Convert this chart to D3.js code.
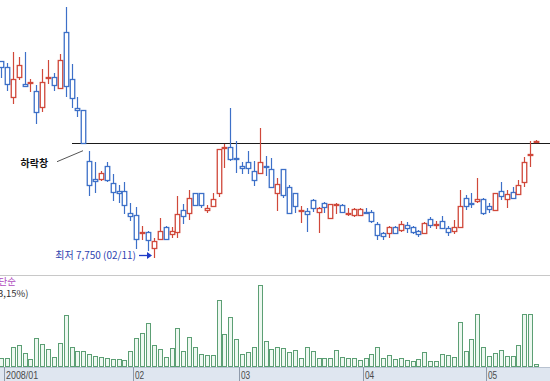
<!DOCTYPE html>
<html><head><meta charset="utf-8">
<script src="https://cdn.jsdelivr.net/npm/d3@7"></script>
<style>html,body{margin:0;padding:0;background:#fff;overflow:hidden}</style>
</head><body><svg id="c" width="550" height="381"></svg>
<script>
const dates = [
"2007-12-28",
"2008-01-02","2008-01-03","2008-01-04","2008-01-07","2008-01-08","2008-01-09","2008-01-10","2008-01-11",
"2008-01-14","2008-01-15","2008-01-16","2008-01-17","2008-01-18","2008-01-21","2008-01-22","2008-01-23",
"2008-01-24","2008-01-25","2008-01-28","2008-01-29","2008-01-30","2008-01-31",
"2008-02-01","2008-02-04","2008-02-05","2008-02-11","2008-02-12","2008-02-13","2008-02-14","2008-02-15",
"2008-02-18","2008-02-19","2008-02-20","2008-02-21","2008-02-22","2008-02-25","2008-02-26","2008-02-27",
"2008-02-28","2008-02-29",
"2008-03-03","2008-03-04","2008-03-05","2008-03-06","2008-03-07","2008-03-10","2008-03-11","2008-03-12",
"2008-03-13","2008-03-14","2008-03-17","2008-03-18","2008-03-19","2008-03-20","2008-03-21","2008-03-24",
"2008-03-25","2008-03-26","2008-03-27","2008-03-28","2008-03-31",
"2008-04-01","2008-04-02","2008-04-03","2008-04-04","2008-04-07","2008-04-08","2008-04-10","2008-04-11",
"2008-04-14","2008-04-15","2008-04-16","2008-04-17","2008-04-18","2008-04-21","2008-04-22","2008-04-23",
"2008-04-24","2008-04-25","2008-04-28","2008-04-29","2008-04-30",
"2008-05-01","2008-05-02","2008-05-06","2008-05-07","2008-05-08","2008-05-09","2008-05-13","2008-05-14","2008-05-15"
];
const open = [
11620,11500,10910,11300,11160,11190,11030,10710,11280,11300,
11090,12190,11260,10690,10650,9640,9290,9290,9550,9210,
9060,9060,8620,8570,8220,8250,7930,8100,8350,8200,
8250,8680,8610,9020,9010,8670,8760,9020,9900,9920,
9700,9550,9630,9450,9400,9550,9480,9010,9480,9130,
9010,8670,8660,8880,8630,8820,8510,8780,8770,8600,
8580,8580,8640,8630,8400,8230,8230,8340,8280,8380,
8340,8260,8230,8500,8380,8470,8320,8270,8350,8910,
8820,8860,8890,8760,8680,9060,8890,9040,8990,9240,
9770,10010];
const high = [
11620,11580,11800,11700,11800,11260,11140,11460,11640,11380,
11760,12680,11560,10910,10650,9840,9630,9450,9630,9390,
9170,9240,8820,8740,8360,8270,8120,8510,8360,8350,
8950,8800,9070,9020,9020,8780,9010,9880,9990,10690,
10030,9630,9850,9640,10290,9740,9700,9300,9490,9170,
9020,8760,8720,8890,8730,8840,8800,8820,8790,8710,
8720,8710,8710,8680,8450,8250,8360,8360,8470,8450,
8360,8280,8450,8530,8460,8550,8360,8490,9070,8970,
9010,9300,8920,8810,9010,9240,9070,9130,9260,9730,
10030,10060];
const low = [
11300,11050,10790,11260,11130,11030,10400,10630,11180,11050,
11090,10930,10710,10530,10000,8970,9030,9270,9250,8880,
8840,8620,8480,7930,8100,7890,7750,8100,8100,8150,
8150,8430,8500,8780,8740,8640,8760,8960,9530,9660,
9430,9400,9400,9170,9400,9370,9130,8680,8940,8610,
8640,8450,8270,8660,8240,8640,8510,8620,8630,8580,
8560,8580,8610,8450,8100,8100,8150,8220,8270,8250,
8230,8160,8230,8350,8330,8320,8180,8230,8350,8690,
8730,8840,8600,8640,8680,8890,8740,8910,8990,9150,
9550,10010];
const close = [
11500,11160,11260,11540,11130,11200,10610,11200,11300,11140,
11640,11130,10890,10650,10000,9170,9250,9410,9270,9030,
9020,8780,8550,8100,8250,8090,8070,8270,8100,8260,
8600,8560,8910,8780,8780,8710,8890,9880,9920,9680,
9690,9510,9510,9270,9630,9540,9130,9200,8970,8610,
8760,8680,8590,8710,8710,8730,8800,8800,8630,8620,
8700,8690,8620,8470,8180,8160,8340,8230,8400,8320,
8240,8200,8420,8380,8400,8320,8240,8340,8760,8760,
8800,8890,8620,8690,9010,8960,8990,8920,9180,9630,
9780,10030];
const volume = [
77,77,187,214,134,67,277,220,167,87,
230,507,187,150,150,117,100,87,84,67,
67,60,147,284,327,434,207,167,94,180,
384,150,294,190,124,107,107,664,324,494,
270,124,140,194,807,247,167,194,184,144,
164,84,187,147,80,84,84,164,94,80,
84,62,84,124,194,84,107,67,84,60,
54,74,144,54,54,117,107,94,444,147,
274,524,187,100,134,164,100,100,214,517,
517,17];
const tickDates = ["2008-01-02","2008-02-01","2008-03-03","2008-04-01","2008-05-01"];
const tickLabels = ["2008/01","02","03","04","05"];
const gapLevel = 10000;
const gapLabel = "하락창";
const lowDate = "2008-02-11";
const lowValue = 7750;
const lowLabel = "최저 7,750 (02/11)";
const volLegend = ["단순", "3,15%)"];

const svg = d3.select("#c");
const UP = "#d0483a", DOWN = "#3d70c8";
const x = d3.scaleBand().domain(dates).range([-1.94, 539]).paddingInner(0).paddingOuter(0);
const cx = d => Math.round(x(d) + x.bandwidth() / 2);
const y = d3.scaleLinear().domain([7750, 10000]).range([257, 143]);
const yv = d3.scaleLinear().domain([0, 910]).range([366, 275]);

const data = dates.map((d, i) => ({d, o: open[i], h: high[i], l: low[i], c: close[i], v: volume[i]}));

// panel separator
svg.append("line").attr("x1", 0).attr("x2", 550).attr("y1", 275.5).attr("y2", 275.5)
  .attr("stroke", "#c8c8c8");

// gap (resistance) line
svg.append("line")
  .attr("x1", cx(dates[12])).attr("x2", 550)
  .attr("y1", Math.round(y(gapLevel)) + 0.5).attr("y2", Math.round(y(gapLevel)) + 0.5)
  .attr("stroke", "#1a1a1a").attr("stroke-width", 1);

// candles
const g = svg.append("g");
const cg = g.selectAll("g.c").data(data).enter().append("g").attr("class", "c");
cg.append("line")
  .attr("x1", d => cx(d.d) + 0.5).attr("x2", d => cx(d.d) + 0.5)
  .attr("y1", d => Math.round(y(d.h))).attr("y2", d => Math.round(y(d.l)) + 1)
  .attr("stroke", d => d.c >= d.o ? UP : DOWN).attr("stroke-width", 1.2);
cg.append("rect")
  .attr("x", d => cx(d.d) - 1.75)
  .attr("y", d => Math.round(y(Math.max(d.o, d.c))) + 0.5)
  .attr("width", 4.5)
  .attr("height", d => Math.max(1, Math.round(y(Math.min(d.o, d.c))) - Math.round(y(Math.max(d.o, d.c)))))
  .attr("fill", "#fff")
  .attr("stroke", d => d.c >= d.o ? UP : DOWN).attr("stroke-width", 1.3);

// volume bars
svg.append("g").selectAll("rect").data(data).enter().append("rect")
  .attr("x", d => cx(d.d) - 2 + 0.5)
  .attr("y", d => Math.round(yv(d.v)) + 0.5)
  .attr("width", 4)
  .attr("height", d => Math.max(0, 366 - Math.round(yv(d.v))))
  .attr("fill", "#eef8f1").attr("stroke", "#5c9f74");

// bottom axis band
svg.append("rect").attr("x", 0).attr("y", 367).attr("width", 550).attr("height", 14).attr("fill", "#dfe6f0");
svg.append("line").attr("x1", 0).attr("x2", 550).attr("y1", 367.5).attr("y2", 367.5).attr("stroke", "#b8c2d0");
tickDates.forEach((td, i) => {
  const tx = Math.round(x(td)) + 0.5;
  svg.append("line").attr("x1", tx).attr("x2", tx).attr("y1", 367).attr("y2", 381).attr("stroke", "#8f9aab");
  svg.append("text").attr("x", tx + 1.5).attr("y", 379)
    .attr("font-family", "Liberation Sans, Arial, sans-serif").attr("font-size", 11.5)
    .attr("fill", "#4a4a4a").attr("textLength", tickLabels[i].length * 4.6).attr("lengthAdjust", "spacingAndGlyphs")
    .text(tickLabels[i]);
});

// annotations
svg.append("text").attr("x", 20.5).attr("y", 167)
  .attr("font-family", "Noto Sans CJK KR, sans-serif").attr("font-size", 10).attr("font-weight", "bold")
  .attr("fill", "#111").text(gapLabel);
svg.append("line").attr("x1", 57).attr("y1", 161.7).attr("x2", cx(dates[14])).attr("y2", 150.7)
  .attr("stroke", "#555").attr("stroke-width", 1);

const lx = cx(lowDate), ly = Math.round(y(lowValue));
svg.append("text").attr("x", lx - 18).attr("y", ly + 2).attr("text-anchor", "end")
  .attr("font-family", "Noto Sans CJK KR, sans-serif").attr("font-size", 10)
  .attr("fill", "#2f44b0").text(lowLabel);
svg.append("line").attr("x1", lx - 15).attr("x2", lx - 5).attr("y1", ly - 1.5).attr("y2", ly - 1.5)
  .attr("stroke", "#1f3cc8").attr("stroke-width", 1.3);
svg.append("path").attr("d", `M${lx - 2},${ly - 1.5} L${lx - 7},${ly - 5} L${lx - 7},${ly + 2} Z`)
  .attr("fill", "#1f3cc8");

svg.append("text").attr("x", -1.5).attr("y", 285)
  .attr("font-family", "Noto Sans CJK KR, sans-serif").attr("font-size", 9.5)
  .attr("fill", "#b04cc0").text(volLegend[0]);
svg.append("text").attr("x", -2).attr("y", 297)
  .attr("font-family", "Noto Sans CJK KR, sans-serif").attr("font-size", 9.5)
  .attr("fill", "#333").text(volLegend[1]);
</script></body></html>
